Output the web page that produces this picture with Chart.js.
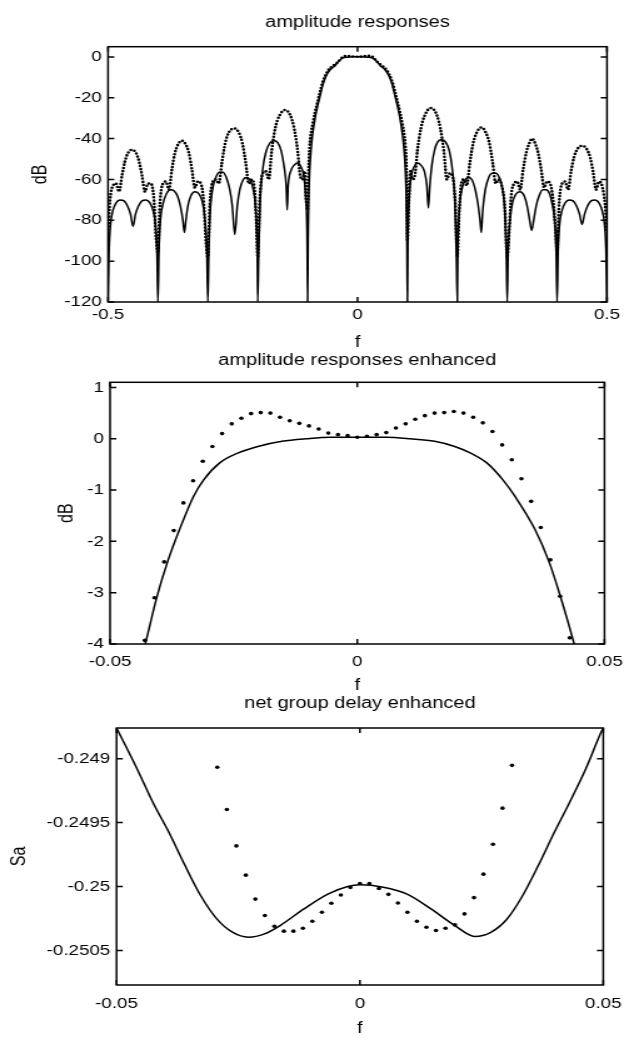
<!DOCTYPE html>
<html>
<head>
<meta charset="utf-8">
<script src="https://cdn.jsdelivr.net/npm/chart.js@4.4.0/dist/chart.umd.min.js"></script>
<style>
body{margin:0;background:#fff;width:634px;height:1038px;overflow:hidden;position:relative;}
.panel{position:absolute;left:0;width:634px;}
/* the scanned figure is stretched sideways: draw on a narrower canvas and widen it */
canvas{display:block;}
</style>
</head>
<body>
<div class="panel" style="top:0px"><canvas id="c1" width="507" height="356" style="width:634px;height:356px"></canvas></div>
<div class="panel" style="top:330px"><canvas id="c2" width="507" height="372" style="width:634px;height:372px"></canvas></div>
<div class="panel" style="top:680px"><canvas id="c3" width="507" height="358" style="width:634px;height:358px"></canvas></div>
<script>
// --- amplitude responses (top) : solid curve
const respF = [
 -0.5, -0.498, -0.495, -0.49, -0.484, -0.476, -0.468, -0.461, -0.455, -0.45, -0.445, -0.439, -0.432, -0.424, -0.416, -0.41, -0.405, -0.402,
 -0.4, -0.398, -0.395, -0.39, -0.383, -0.375, -0.368, -0.361, -0.355, -0.35, -0.347, -0.344, -0.34, -0.334, -0.326, -0.318, -0.311, -0.306, -0.302,
 -0.3, -0.298, -0.295, -0.29, -0.284, -0.277, -0.27, -0.263, -0.256, -0.251, -0.246, -0.241, -0.236, -0.229, -0.222, -0.215, -0.209, -0.204, -0.201,
 -0.2, -0.198, -0.195, -0.19, -0.183, -0.175, -0.167, -0.16, -0.153, -0.147, -0.143, -0.141, -0.139, -0.134, -0.127, -0.12, -0.114, -0.108, -0.104, -0.101,
 -0.1, -0.099, -0.098, -0.096, -0.093, -0.09, -0.085, -0.08, -0.075, -0.07, -0.065, -0.06, -0.055, -0.05, -0.045, -0.04, -0.03, -0.02, -0.01,
 0, 0.01, 0.02, 0.03, 0.04, 0.045, 0.05, 0.055, 0.06, 0.065, 0.07, 0.075, 0.08, 0.085, 0.09, 0.093, 0.096, 0.098, 0.099,
 0.1, 0.101, 0.104, 0.108, 0.114, 0.12, 0.127, 0.134, 0.139, 0.142, 0.145, 0.149, 0.155, 0.161, 0.168, 0.176, 0.184, 0.19, 0.195, 0.198,
 0.2, 0.201, 0.204, 0.209, 0.215, 0.222, 0.229, 0.236, 0.242, 0.246, 0.248, 0.251, 0.256, 0.263, 0.27, 0.277, 0.284, 0.29, 0.295, 0.298,
 0.3, 0.302, 0.306, 0.311, 0.318, 0.326, 0.334, 0.34, 0.345, 0.349, 0.353, 0.358, 0.364, 0.371, 0.378, 0.385, 0.39, 0.395, 0.398,
 0.4, 0.402, 0.405, 0.41, 0.416, 0.424, 0.432, 0.439, 0.445, 0.45, 0.455, 0.461, 0.468, 0.476, 0.484, 0.49, 0.495, 0.498, 0.5
];
const respSolid = [
 -120, -95, -82, -75, -71.5, -70, -70.5, -73, -77, -83, -77, -73, -70.5, -70, -71.5, -75, -82, -95,
 -120, -95, -80, -72, -67, -65, -65.5, -68, -73, -80, -86, -80, -73, -68, -66, -67, -71, -79, -95,
 -120, -95, -75, -64, -59, -56.5, -56.5, -59, -65, -73, -87, -73, -65, -60, -59, -60.5, -65, -75, -95,
 -120, -95, -70, -55, -46, -42, -41, -42, -46, -54, -63, -75, -63, -56, -53, -52, -53.5, -58, -68, -90,
 -120, -90, -72, -56, -45, -38, -30, -24, -19, -14, -10.5, -8, -6.3, -5.2, -4.3, -2.6, -0.6, -0.15, 0.02,
 0.03, 0.02, -0.15, -0.6, -2.5, -4.2, -5.2, -6.3, -8, -10.5, -14, -19, -24, -30, -38, -45, -56, -72, -90,
 -120, -90, -68, -58, -53.5, -52, -53, -56, -63, -74, -63, -53, -45, -41.5, -40.5, -41.5, -46, -55, -70, -95,
 -120, -95, -75, -65, -60.5, -59, -60, -65, -73, -81, -86, -75, -65, -59, -57, -57, -59, -64, -75, -95,
 -120, -95, -79, -71, -67, -66, -68, -73, -80, -85, -80, -73, -68, -65, -65, -67, -72, -80, -95,
 -120, -95, -82, -75, -71.5, -70, -70.5, -73, -77, -82, -77, -73, -70.5, -70, -71.5, -75, -82, -95, -120
];

// --- amplitude responses (top) : dotted curve
const dotF = [
 -0.5, -0.496, -0.49, -0.484, -0.478, -0.472, -0.466, -0.46, -0.452, -0.444, -0.438, -0.432, -0.426, -0.42, -0.414, -0.408, -0.404,
 -0.4, -0.396, -0.39, -0.384, -0.378, -0.372, -0.366, -0.36, -0.352, -0.344, -0.338, -0.332, -0.326, -0.32, -0.314, -0.308, -0.304,
 -0.3, -0.296, -0.29, -0.284, -0.278, -0.272, -0.265, -0.258, -0.247, -0.238, -0.231, -0.224, -0.218, -0.212, -0.206, -0.203,
 -0.2, -0.196, -0.19, -0.184, -0.178, -0.172, -0.165, -0.157, -0.145, -0.134, -0.127, -0.12, -0.115, -0.11, -0.106, -0.103,
 -0.1, -0.098, -0.096, -0.093, -0.09, -0.085, -0.08, -0.075, -0.07, -0.06, -0.05, -0.04, -0.03, -0.02, -0.01,
 0, 0.01, 0.02, 0.03, 0.04, 0.05, 0.06, 0.07, 0.075, 0.08, 0.085, 0.09, 0.093, 0.096, 0.098,
 0.1, 0.103, 0.106, 0.11, 0.115, 0.12, 0.127, 0.135, 0.147, 0.159, 0.166, 0.173, 0.179, 0.185, 0.19, 0.196,
 0.2, 0.204, 0.208, 0.213, 0.219, 0.225, 0.232, 0.239, 0.248, 0.257, 0.264, 0.271, 0.277, 0.283, 0.289, 0.295,
 0.3, 0.304, 0.308, 0.314, 0.32, 0.326, 0.332, 0.338, 0.343, 0.35, 0.357, 0.362, 0.368, 0.374, 0.38, 0.386, 0.392, 0.397,
 0.4, 0.404, 0.41, 0.416, 0.422, 0.428, 0.434, 0.441, 0.45, 0.459, 0.466, 0.472, 0.478, 0.484, 0.49, 0.496, 0.5
];
const respDots = [
 -86, -70, -63, -62, -66, -58, -51, -47, -45.5, -47, -51, -58, -66, -62, -62, -70, -88,
 -96, -72, -62, -61, -65, -55, -47, -43, -41, -43, -47, -55, -64, -61, -62, -72, -90,
 -98, -72, -61, -60, -62, -52, -42, -37, -35, -37, -42, -52, -62, -60, -66, -80,
 -98, -70, -57, -56, -60, -46, -35, -29, -26, -29, -35, -46, -58, -60, -56, -70,
 -75, -55, -44, -37, -33, -27, -22, -17, -12.5, -7, -4.5, -2.7, -0.1, 0.5, 0.2,
 0.05, 0.2, 0.5, 0.1, -2.6, -4.4, -7, -12.5, -17, -22, -27, -33, -37, -44, -55,
 -90, -70, -56, -60, -58, -46, -35, -28.5, -25, -28.5, -35, -46, -60, -57, -58, -72,
 -98, -75, -62, -60, -63, -52, -42, -37, -34.5, -37, -42, -52, -62, -60, -63, -73,
 -98, -85, -68, -62, -61, -65, -55, -47, -43, -40, -43, -47, -55, -64, -61, -62, -70, -85,
 -96, -72, -62, -61, -65, -56, -49, -45, -43.5, -45, -49, -56, -65, -61, -63, -72, -85
];

// --- amplitude responses enhanced (middle)
const enhF = [-0.0445, -0.04269, -0.04058, -0.03838, -0.03595, -0.0331, -0.03107, -0.02782, -0.02417, -0.0201, -0.01523, -0.01036, -0.00548,
 0, 0.00589, 0.01076, 0.01564, 0.0197, 0.02295, 0.0262, 0.02945, 0.03188, 0.03595, 0.03879, 0.04107, 0.04367, 0.0455];
const enhSolid = [-4.6, -3.93, -3.1, -2.4, -1.77, -1.12, -0.8, -0.47, -0.28, -0.15, -0.05, 0, 0.03,
 0.03, 0.03, 0, -0.05, -0.15, -0.28, -0.47, -0.8, -1.12, -1.77, -2.4, -3.07, -3.93, -4.6];

// dotted samples, f = -22/512 ... 22/512
const gridF = [-0.04297, -0.04102, -0.03906, -0.03711, -0.03516, -0.0332, -0.03125, -0.0293, -0.02734, -0.02539, -0.02344,
 -0.02148, -0.01953, -0.01758, -0.01563, -0.01367, -0.01172, -0.00977, -0.00781, -0.00586, -0.00391, -0.00195, 0,
 0.00195, 0.00391, 0.00586, 0.00781, 0.00977, 0.01172, 0.01367, 0.01563, 0.01758, 0.01953, 0.02148,
 0.02344, 0.02539, 0.02734, 0.0293, 0.03125, 0.0332, 0.03516, 0.03711, 0.03906, 0.04102, 0.04297];
const enhDots = [-3.93, -3.1, -2.4, -1.79, -1.25, -0.82, -0.44, -0.15, 0.1, 0.29, 0.4, 0.49, 0.51, 0.5, 0.42, 0.35, 0.3, 0.25, 0.19, 0.11, 0.08, 0.06, 0.03,
 0.05, 0.08, 0.12, 0.21, 0.29, 0.38, 0.45, 0.5, 0.51, 0.53, 0.5, 0.42, 0.31, 0.14, -0.12, -0.41, -0.78, -1.22, -1.73, -2.36, -3.07, -3.88];

// --- net group delay enhanced (bottom)
const delayF = [-0.05, -0.0457, -0.0425, -0.0392, -0.0359, -0.0327, -0.0294, -0.0262, -0.0229, -0.0196, -0.0164, -0.0115, -0.0066, -0.0025,
 0, 0.0048, 0.0097, 0.0146, 0.0195, 0.0236, 0.0268, 0.0301, 0.0333, 0.0366, 0.0399, 0.0431, 0.0464, 0.0496, 0.05];
const delaySolid = [-0.24876, -0.249086, -0.249345, -0.249579, -0.249838, -0.250072, -0.250253, -0.250357, -0.250396, -0.25037, -0.250305, -0.250175, -0.250059, -0.249999,
 -0.249986, -0.250005, -0.250059, -0.250175, -0.250305, -0.25039, -0.25036, -0.25026, -0.25008, -0.24984, -0.24958, -0.24934, -0.24908, -0.24879, -0.24876];
const delayDotF = gridF.slice(7, 39); // -15/512 ... 16/512
const delayDots = [-0.249067, -0.249397, -0.249682, -0.249911, -0.250098, -0.250227, -0.25031, -0.250349, -0.250349, -0.250326, -0.250271, -0.250201, -0.250131, -0.250066, -0.250007, -0.249976,
 -0.249976, -0.250015, -0.250061, -0.250129, -0.250201, -0.250271, -0.250318, -0.250344, -0.250326, -0.2503, -0.250214, -0.250087, -0.249903, -0.249669, -0.249387, -0.249052];

// tick values
const xTicks1 = [-0.5, 0, 0.5];
const yTicks1 = [-120, -100, -80, -60, -40, -20, 0];
const xTicks2 = [-0.05, 0, 0.05];
const yTicks2 = [-4, -3, -2, -1, 0, 1];
const yTicks3 = [-0.2505, -0.25, -0.2495, -0.249];

const FONT = "'Liberation Sans', Arial, Helvetica, sans-serif";
const W = 507; // canvas width before the sideways stretch to 634px
const pts = (xs, ys) => xs.map((x, i) => ({x: x, y: ys[i]}));

// matlab style box with inward ticks on all four sides
const boxTicks = {
  id: 'boxTicks',
  afterDatasetsDraw(chart) {
    const {ctx, chartArea: a, scales} = chart;
    const len = 5;
    ctx.save();
    ctx.strokeStyle = '#000';
    ctx.lineWidth = 1.5;
    ctx.strokeRect(a.left, a.top, a.right - a.left, a.bottom - a.top);
    ctx.beginPath();
    scales.x.ticks.forEach(t => {
      const p = scales.x.getPixelForValue(t.value);
      ctx.moveTo(p, a.bottom); ctx.lineTo(p, a.bottom - len);
      ctx.moveTo(p, a.top); ctx.lineTo(p, a.top + len);
    });
    scales.y.ticks.forEach(t => {
      const p = scales.y.getPixelForValue(t.value);
      ctx.moveTo(a.left, p); ctx.lineTo(a.left + len, p);
      ctx.moveTo(a.right, p); ctx.lineTo(a.right - len, p);
    });
    ctx.stroke();
    ctx.restore();
  }
};

function makeChart(id, g) {
  return new Chart(document.getElementById(id), {
    type: 'line',
    data: {datasets: g.datasets},
    options: {
      responsive: false,
      animation: false,
      events: [],
      layout: {padding: {left: 0, right: W - g.R, top: 0, bottom: 0}},
      plugins: {
        legend: {display: false},
        tooltip: {enabled: false},
        title: {display: true, text: g.title, color: '#000', fullSize: false,
          font: {family: FONT, size: 16, weight: 'normal'},
          padding: {top: g.titleTop, bottom: g.titleBottom}}
      },
      scales: {
        x: {
          type: 'linear', min: g.xMin, max: g.xMax,
          afterBuildTicks: s => { s.ticks = g.xTicks.map(v => ({value: v})); },
          afterFit: s => { s.height = g.H - g.B; },
          grid: {display: false, drawTicks: false},
          border: {display: false},
          ticks: {color: '#000', font: {family: FONT, size: 15}, padding: g.xPad,
            maxRotation: 0, autoSkip: false, callback: v => String(v)},
          title: {display: true, text: 'f', color: '#000',
            font: {family: FONT, size: 16}, padding: {top: 0, bottom: g.fPad}}
        },
        y: {
          type: 'linear', min: g.yMin, max: g.yMax,
          afterBuildTicks: s => { s.ticks = g.yTicks.map(v => ({value: v})); },
          afterFit: s => { s.width = g.L; },
          grid: {display: false, drawTicks: false},
          border: {display: false},
          ticks: {color: '#000', font: {family: FONT, size: 15}, padding: 5, callback: v => String(v)},
          title: {display: true, text: g.yLabel, color: '#000',
            font: {family: FONT, size: 16}, padding: {top: g.yTitlePad, bottom: 0}}
        }
      }
    },
    plugins: [boxTicks]
  });
}

const solidStyle = {borderColor: '#000', borderWidth: 1.5, pointRadius: 0, fill: false, cubicInterpolationMode: 'monotone'};
const dotStyle = {showLine: false, pointRadius: 1.8, pointBackgroundColor: '#000', pointBorderWidth: 0, borderColor: '#000'};

makeChart('c1', {
  title: 'amplitude responses', H: 356, L: 86.4, R: 485.4, B: 302,
  titleTop: 12.9, titleBottom: 14.6, xPad: 4, fPad: 3.4, yTitlePad: 22.8, yLabel: 'dB',
  xMin: -0.5, xMax: 0.5, yMin: -120, yMax: 5, xTicks: xTicks1, yTicks: yTicks1,
  datasets: [
    Object.assign({data: pts(respF, respSolid)}, solidStyle),
    {data: pts(dotF, respDots), borderColor: '#000', borderWidth: 2.6, borderDash: [0, 3.2],
     borderCapStyle: 'round', pointRadius: 0, fill: false, cubicInterpolationMode: 'monotone'}
  ]
});

makeChart('c2', {
  title: 'amplitude responses enhanced', H: 372, L: 88, R: 486.6, B: 314,
  titleTop: 20.9, titleBottom: 12.2, xPad: 9, fPad: 6.4, yTitlePad: 44, yLabel: 'dB',
  xMin: -0.05, xMax: 0.05, yMin: -4, yMax: 1.1, xTicks: xTicks2, yTicks: yTicks2,
  datasets: [
    Object.assign({data: pts(enhF, enhSolid)}, solidStyle),
    Object.assign({data: pts(gridF, enhDots)}, dotStyle)
  ]
});

makeChart('c3', {
  title: 'net group delay enhanced', H: 358, L: 93.2, R: 490.5, B: 305,
  titleTop: 13.9, titleBottom: 14.9, xPad: 10, fPad: 0, yTitlePad: 6.4, yLabel: 'Sa',
  xMin: -0.05, xMax: 0.05, yMin: -0.25077, yMax: -0.24876, xTicks: xTicks2, yTicks: yTicks3,
  datasets: [
    Object.assign({data: pts(delayF, delaySolid)}, solidStyle),
    Object.assign({data: pts(delayDotF, delayDots)}, dotStyle)
  ]
});
</script>
</body>
</html>
